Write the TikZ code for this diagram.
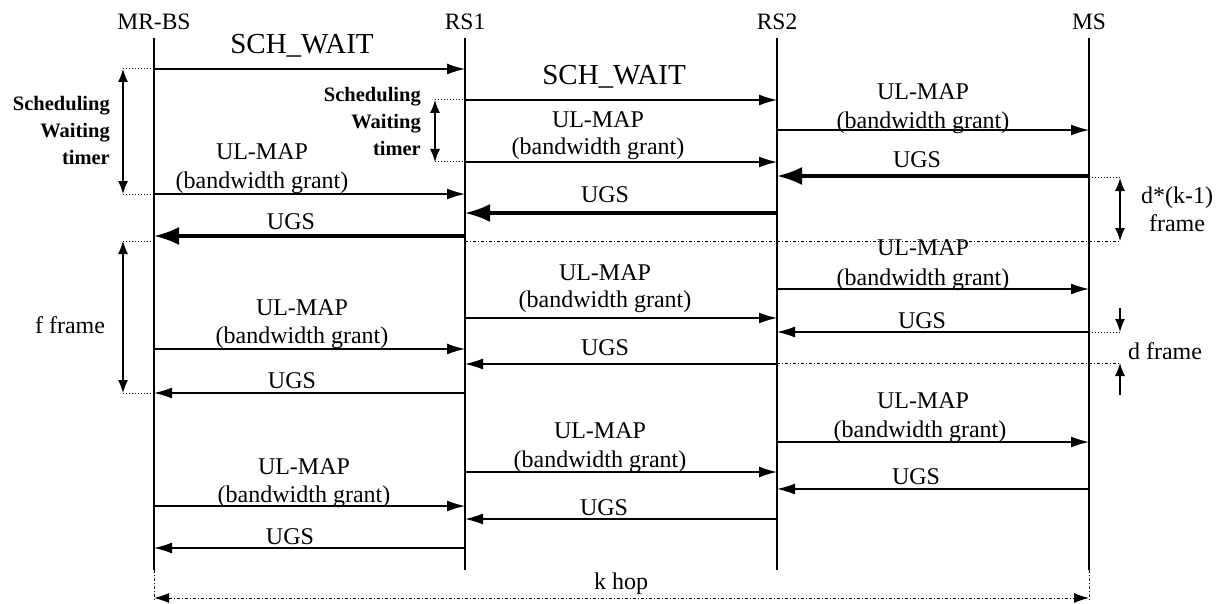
\documentclass[tikz,border=0pt]{standalone}
\usepackage{fontspec}
\setmainfont{Liberation Serif}
\usetikzlibrary{arrows.meta}
\begin{document}
\begin{tikzpicture}[x=1pt,y=-1pt,
  life/.style={line width=1.2pt},
  msg/.style={line width=1.3pt,-{Latex[length=18pt,width=11pt]}},
  bigmsg/.style={line width=3.2pt,-{Latex[length=25pt,width=18pt]}},
  vdbl/.style={line width=1.3pt,{Latex[length=13pt,width=10pt]}-{Latex[length=13pt,width=10pt]}},
  vone/.style={line width=1.3pt,-{Latex[length=13pt,width=10pt]}},
  lead/.style={line width=1pt,dotted},
  ddot/.style={line width=1pt,dash dot},
  lbl/.style={font=\fontsize{24}{26}\selectfont,inner sep=0pt},
  big/.style={font=\fontsize{29}{31}\selectfont,inner sep=0pt},
  head/.style={font=\fontsize{23.5}{25}\selectfont,inner sep=0pt},
  sched/.style={font=\fontsize{20.5}{27}\selectfont\bfseries,inner sep=0pt,align=right,anchor=east},
  side/.style={font=\fontsize{24}{28}\selectfont,inner sep=0pt,align=center}]
\useasboundingbox (0,0) rectangle (1222,604);
% headers and lifelines
\node[head] (hA) at (154,22) {MR-BS};
\node[head] (hB) at (465,22) {RS1};
\node[head] (hC) at (777,22) {RS2};
\node[head] (hD) at (1089,22) {MS};
\coordinate (A) at (154,38); \coordinate (Ae) at (154,570);
\coordinate (B) at (465,38); \coordinate (Be) at (465,570);
\coordinate (C) at (777,38); \coordinate (Ce) at (777,570);
\coordinate (D) at (1089,38); \coordinate (De) at (1089,570);
\draw[life] (A) -- (Ae);
\draw[life] (B) -- (Be);
\draw[life] (C) -- (Ce);
\draw[life] (D) -- (De);
% ---- block 1
\node[big] (t1) at (302,46) {SCH\_WAIT};
\draw[msg] (A |- 0,69) -- (B |- 0,69);
\node[big] (t2) at (614,77) {SCH\_WAIT};
\draw[msg] (B |- 0,100) -- (C |- 0,100);
\node[lbl] (t3a) at (923,92) {UL-MAP};
\node[lbl] (t3b) at (923,123) {(bandwidth grant)};
\draw[msg] (C |- 0,130) -- (D |- 0,130);
\node[lbl] (t4a) at (598,120) {UL-MAP};
\node[lbl] (t4b) at (598,149) {(bandwidth grant)};
\draw[msg] (B |- 0,162) -- (C |- 0,162);
\node[lbl] (t5a) at (262,152) {UL-MAP};
\node[lbl] (t5b) at (262,183) {(bandwidth grant)};
\draw[msg] (A |- 0,194) -- (B |- 0,194);
\node[lbl] (t6) at (917,160) {UGS};
\draw[bigmsg] (D |- 0,176) -- (C |- 0,176);
\node[lbl] (t7) at (605,195) {UGS};
\draw[bigmsg] (C |- 0,213) -- (B |- 0,213);
\node[lbl] (t8) at (291,222) {UGS};
\draw[bigmsg] (B |- 0,236) -- (A |- 0,236);
% scheduling timers
\node[sched] (s1) at (110,130) {Scheduling\\Waiting\\timer};
\draw[lead] (123,69) -- (A |- 0,69);
\draw[lead] (123,194) -- (A |- 0,194);
\draw[vdbl] (123,69) -- (123,194);
\node[sched] (s2) at (421,121) {Scheduling\\Waiting\\timer};
\draw[lead] (435,100) -- (B |- 0,100);
\draw[lead] (435,162) -- (B |- 0,162);
\draw[vdbl] (435,100) -- (435,162);
% d*(k-1)
\draw[lead] (D |- 0,178) -- (1120,178);
\draw[ddot] (B |- 0,241) -- (1120,241);
\draw[vdbl] (1120,178) -- (1120,241);
\node[side] (dk) at (1177,209) {d*(k-1)\\frame};
% f frame
\draw[lead] (123,241) -- (A |- 0,241);
\draw[lead] (123,393) -- (A |- 0,393);
\draw[vdbl] (123,241) -- (123,393);
\node[side] (ff) at (70,325) {f frame};
% ---- block 2
\node[lbl] (u1a) at (923,248) {UL-MAP};
\node[lbl] (u1b) at (923,280) {(bandwidth grant)};
\draw[msg] (C |- 0,289) -- (D |- 0,289);
\node[lbl] (u2a) at (605,273) {UL-MAP};
\node[lbl] (u2b) at (605,302) {(bandwidth grant)};
\draw[msg] (B |- 0,318) -- (C |- 0,318);
\node[lbl] (u3a) at (302,308) {UL-MAP};
\node[lbl] (u3b) at (302,338) {(bandwidth grant)};
\draw[msg] (A |- 0,349) -- (B |- 0,349);
\node[lbl] (u4) at (922,321) {UGS};
\draw[msg] (D |- 0,332) -- (C |- 0,332);
\node[lbl] (u5) at (605,348) {UGS};
\draw[msg] (C |- 0,364) -- (B |- 0,364);
\node[lbl] (u6) at (292,381) {UGS};
\draw[msg] (B |- 0,393) -- (A |- 0,393);
% d frame
\draw[lead] (D |- 0,332) -- (1120,332);
\draw[ddot] (C |- 0,363) -- (1120,363);
\draw[vone] (1120,308) -- (1120,332);
\draw[vone] (1120,395) -- (1120,363);
\node[side] (df) at (1165,351) {d frame};
% ---- block 3
\node[lbl] (w1a) at (923,401) {UL-MAP};
\node[lbl] (w1b) at (920,432) {(bandwidth grant)};
\draw[msg] (C |- 0,442) -- (D |- 0,442);
\node[lbl] (w2a) at (600,431) {UL-MAP};
\node[lbl] (w2b) at (600,462) {(bandwidth grant)};
\draw[msg] (B |- 0,472) -- (C |- 0,472);
\node[lbl] (w3a) at (304,467) {UL-MAP};
\node[lbl] (w3b) at (304,497) {(bandwidth grant)};
\draw[msg] (A |- 0,506) -- (B |- 0,506);
\node[lbl] (w4) at (916,477) {UGS};
\draw[msg] (D |- 0,489) -- (C |- 0,489);
\node[lbl] (w5) at (604,508) {UGS};
\draw[msg] (C |- 0,519) -- (B |- 0,519);
\node[lbl] (w6) at (290,537) {UGS};
\draw[msg] (B |- 0,548) -- (A |- 0,548);
% k hop
\coordinate (kA) at (154,598); \coordinate (kD) at (1089,598);
\draw[ddot] (Ae) -- (A |- 0,600);
\draw[ddot] (De) -- (D |- 0,600);
\draw[ddot,{Latex[length=15pt,width=10pt]}-{Latex[length=15pt,width=10pt]}] (kA) -- (kD);
\node[lbl] (kh) at (621,584) {k hop};
\end{tikzpicture}
\end{document}
